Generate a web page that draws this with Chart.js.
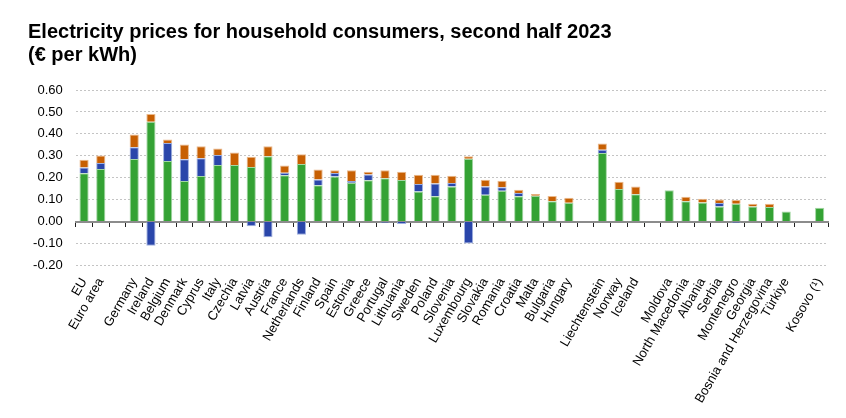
<!DOCTYPE html>
<html>
<head>
<meta charset="utf-8">
<script src="https://cdn.jsdelivr.net/npm/chart.js@4.4.0/dist/chart.umd.min.js"></script>
<style>
  html, body { margin: 0; padding: 0; background: #fff; }
  #wrap { position: relative; width: 846px; height: 418px; }
  #title { position: absolute; left: 28px; top: 20px; font: bold 20px Arial, "Liberation Sans", sans-serif; line-height: 23px; color: #000; margin: 0; white-space: nowrap; }
  canvas { position: absolute; left: 0; top: 0; }
</style>
</head>
<body>
<div id="wrap">
  <canvas id="c" width="846" height="418"></canvas>
  <div id="title">Electricity prices for household consumers, second half 2023<br>(€ per kWh)</div>
</div>
<script>
const categories = ['EU','Euro area','','Germany','Ireland','Belgium','Denmark','Cyprus','Italy','Czechia','Latvia','Austria','France','Netherlands','Finland','Spain','Estonia','Greece','Portugal','Lithuania','Sweden','Poland','Slovenia','Luxembourg','Slovakia','Romania','Croatia','Malta','Bulgaria','Hungary','','Liechtenstein','Norway','Iceland','','Moldova','North Macedonia','Albania','Serbia','Montenegro','Georgia','Bosnia and Herzegovina','Türkiye','','Kosovo (¹)'];

const greenValues = [0.220,0.240,null,0.285,0.455,0.276,0.185,0.208,0.258,0.258,0.249,0.298,0.211,0.263,0.166,0.206,0.177,0.188,0.197,0.190,0.137,0.115,0.160,0.287,0.122,0.140,0.115,0.118,0.093,0.086,null,0.313,0.148,0.125,null,0.143,0.093,0.087,0.069,0.081,0.069,0.066,0.046,null,0.063];

const blueValues = [0.026,0.027,null,0.054,-0.110,0.082,0.099,0.081,0.046,null,-0.022,-0.072,0.012,-0.060,0.026,0.015,0.008,0.027,-0.006,-0.011,0.034,0.058,0.016,-0.100,0.038,0.017,0.015,null,null,null,null,0.015,null,null,null,null,null,null,0.016,-0.006,null,null,null,null,null];

const orangeValues = [0.036,0.034,null,0.058,0.035,0.016,0.067,0.055,0.029,0.057,0.046,0.046,0.033,0.044,0.045,0.013,0.049,0.012,0.037,0.037,0.043,0.041,0.033,0.011,0.031,0.029,0.015,0.008,0.024,0.022,null,0.028,0.034,0.035,null,null,0.020,0.017,0.016,0.017,0.012,0.015,null,null,null];

const yTicks = [-0.2,-0.1,0,0.1,0.2,0.3,0.4,0.5,0.6];

const FONT = 'Arial, "Liberation Sans", sans-serif';

new Chart(document.getElementById('c'), {
  type: 'bar',
  data: {
    labels: categories,
    datasets: [
      { data: greenValues, backgroundColor: '#34a234', borderColor: '#a3d6a3', borderWidth: 1, stack: 's' },
      { data: blueValues, backgroundColor: '#2a46aa', borderColor: '#9fb0df', borderWidth: 1, stack: 's' },
      { data: orangeValues, backgroundColor: '#c75f02', borderColor: '#eab98c', borderWidth: 1, stack: 's' }
    ]
  },
  options: {
    responsive: false,
    animation: false,
    devicePixelRatio: 1,
    layout: { padding: { left: 0, right: 18, top: 90, bottom: 0 } },
    datasets: { bar: { categoryPercentage: 1, barPercentage: 0.55 } },
    plugins: { legend: { display: false }, title: { display: false }, tooltip: { enabled: false } },
    scales: {
      x: {
        stacked: true,
        position: { y: 0 },
        offset: true,
        grid: { offset: true, drawOnChartArea: false, drawTicks: true, tickLength: 4, color: '#222', lineWidth: 1 },
        border: { display: true, color: '#8c8c8c', width: 2 },
        ticks: { display: false }
      },
      x2: {
        type: 'category',
        position: 'bottom',
        offset: true,
        grid: { display: false, drawTicks: false },
        border: { display: false },
        afterFit: (s) => { s.height = 152.6; },
        ticks: {
          autoSkip: false, maxRotation: 60, minRotation: 60, padding: 10,
          color: '#000', font: { family: FONT, size: 13 }
        }
      },
      y: {
        stacked: true,
        min: -0.2, max: 0.6,
        afterFit: (s) => { s.width = 75.7; },
        afterBuildTicks: (s) => { s.ticks = yTicks.map(v => ({ value: v })); },
        grid: { drawTicks: false, color: '#c4c4c4', lineWidth: 1 },
        border: { display: false, dash: [2, 2] },
        ticks: {
          padding: 13, color: '#000', font: { family: FONT, size: 13 },
          callback: (v) => Number(v).toFixed(2)
        }
      }
    }
  }
});
</script>
</body>
</html>
